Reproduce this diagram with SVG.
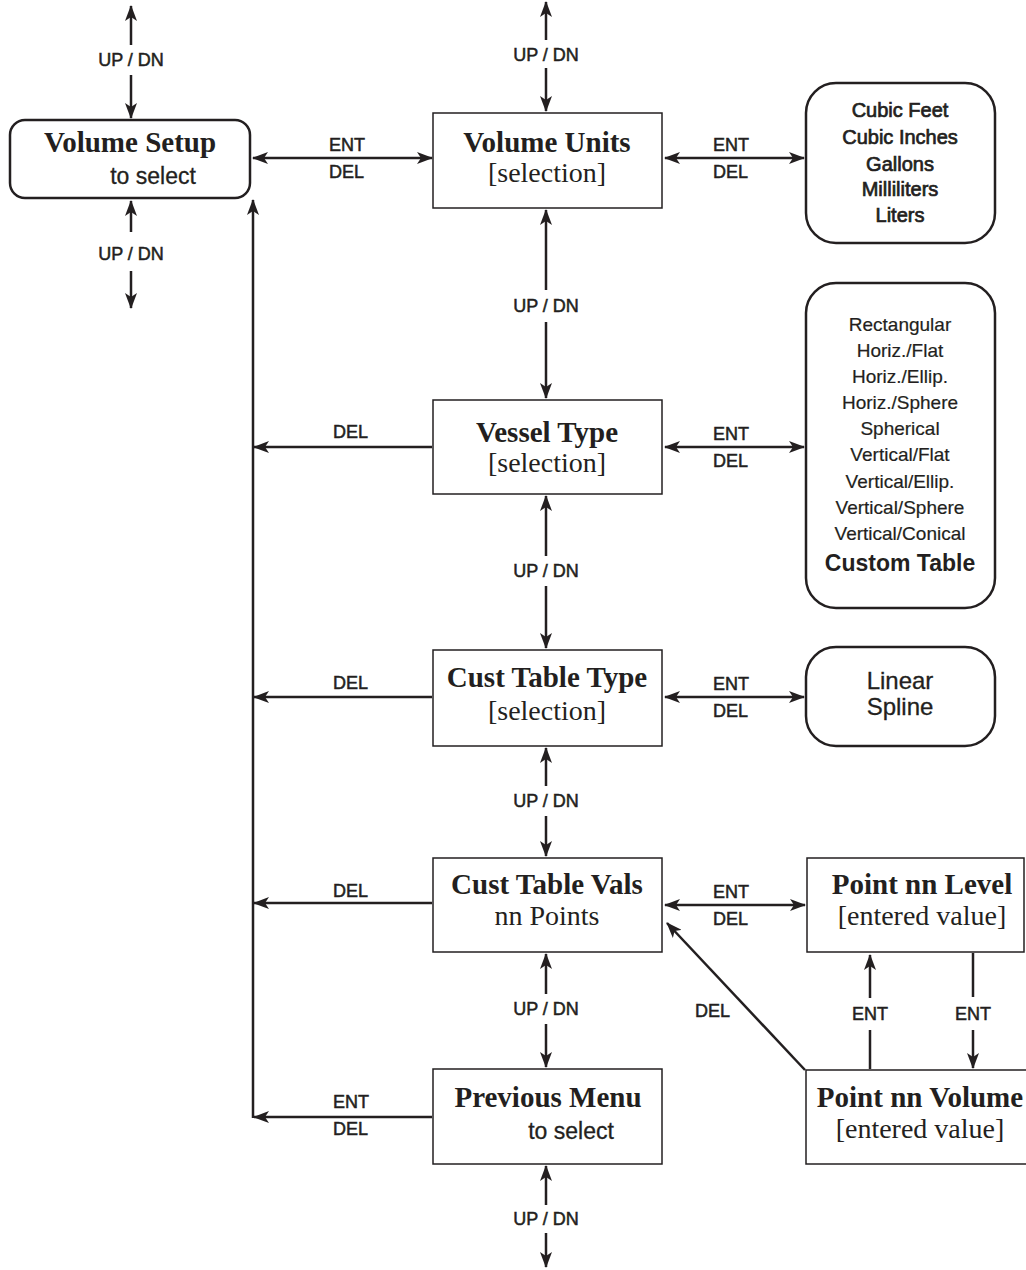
<svg xmlns="http://www.w3.org/2000/svg" width="1026" height="1270" viewBox="0 0 1026 1270">
<style>
.bx{fill:#fff;stroke:#231f20;stroke-width:1.5}
.rb{fill:#fff;stroke:#231f20;stroke-width:2.5}
.ln{fill:none;stroke:#231f20;stroke-width:2.5}
.t{font-family:"Liberation Serif",serif;font-weight:bold;font-size:29px;fill:#231f20;text-anchor:middle}
.s{font-family:"Liberation Serif",serif;font-size:28px;fill:#231f20;text-anchor:middle}
.ss{font-family:"Liberation Sans",Arial,sans-serif;font-size:23px;fill:#231f20;text-anchor:middle;stroke:#231f20;stroke-width:0.3}
.k{font-family:"Liberation Sans",Arial,sans-serif;font-size:18px;fill:#231f20;stroke:#231f20;stroke-width:0.5}
.km{font-family:"Liberation Sans",Arial,sans-serif;font-size:18px;fill:#231f20;text-anchor:middle;stroke:#231f20;stroke-width:0.5}
.l{font-family:"Liberation Sans",Arial,sans-serif;font-size:19px;fill:#231f20;text-anchor:middle;stroke:#231f20;stroke-width:0.2}
.lm{font-family:"Liberation Sans",Arial,sans-serif;font-size:20px;fill:#231f20;text-anchor:middle;stroke:#231f20;stroke-width:0.7}
.lb{font-family:"Liberation Sans",Arial,sans-serif;font-size:23px;fill:#231f20;text-anchor:middle;font-weight:bold}
</style>
<defs>
<marker id="ah" viewBox="0 0 16 12" refX="15" refY="6" markerWidth="16" markerHeight="12" markerUnits="userSpaceOnUse" orient="auto-start-reverse">
<path d="M0,0 L16,6 L0,12 L4,6 Z" fill="#231f20"/>
</marker>
</defs>
<g id="connectors">
<line class="ln" x1="131" y1="45" x2="131" y2="6" marker-end="url(#ah)"/>
<line class="ln" x1="131" y1="75" x2="131" y2="118" marker-end="url(#ah)"/>
<line class="ln" x1="131" y1="232" x2="131" y2="201" marker-end="url(#ah)"/>
<line class="ln" x1="131" y1="271" x2="131" y2="308" marker-end="url(#ah)"/>
<text class="km" x="131" y="66">UP / DN</text>
<text class="km" x="131" y="260">UP / DN</text>
<line class="ln" x1="546" y1="40" x2="546" y2="2" marker-end="url(#ah)"/>
<line class="ln" x1="546" y1="68" x2="546" y2="111" marker-end="url(#ah)"/>
<text class="km" x="546" y="61">UP / DN</text>
<line class="ln" x1="546" y1="290" x2="546" y2="210" marker-end="url(#ah)"/>
<line class="ln" x1="546" y1="322" x2="546" y2="398" marker-end="url(#ah)"/>
<text class="km" x="546" y="312">UP / DN</text>
<line class="ln" x1="546" y1="556" x2="546" y2="496" marker-end="url(#ah)"/>
<line class="ln" x1="546" y1="586" x2="546" y2="648" marker-end="url(#ah)"/>
<text class="km" x="546" y="577">UP / DN</text>
<line class="ln" x1="546" y1="786" x2="546" y2="748" marker-end="url(#ah)"/>
<line class="ln" x1="546" y1="816" x2="546" y2="856" marker-end="url(#ah)"/>
<text class="km" x="546" y="807">UP / DN</text>
<line class="ln" x1="546" y1="994" x2="546" y2="954" marker-end="url(#ah)"/>
<line class="ln" x1="546" y1="1024" x2="546" y2="1067" marker-end="url(#ah)"/>
<text class="km" x="546" y="1015">UP / DN</text>
<line class="ln" x1="546" y1="1205" x2="546" y2="1166" marker-end="url(#ah)"/>
<line class="ln" x1="546" y1="1233" x2="546" y2="1267" marker-end="url(#ah)"/>
<text class="km" x="546" y="1225">UP / DN</text>
<line class="ln" x1="253" y1="158" x2="432" y2="158" marker-start="url(#ah)" marker-end="url(#ah)"/>
<text class="k" x="329" y="151">ENT</text>
<text class="k" x="329" y="178">DEL</text>
<line class="ln" x1="665" y1="158" x2="804" y2="158" marker-start="url(#ah)" marker-end="url(#ah)"/>
<text class="k" x="713" y="151">ENT</text>
<text class="k" x="713" y="178">DEL</text>
<line class="ln" x1="665" y1="447" x2="804" y2="447" marker-start="url(#ah)" marker-end="url(#ah)"/>
<text class="k" x="713" y="440">ENT</text>
<text class="k" x="713" y="467">DEL</text>
<line class="ln" x1="665" y1="697" x2="804" y2="697" marker-start="url(#ah)" marker-end="url(#ah)"/>
<text class="k" x="713" y="690">ENT</text>
<text class="k" x="713" y="717">DEL</text>
<line class="ln" x1="665" y1="905" x2="805" y2="905" marker-start="url(#ah)" marker-end="url(#ah)"/>
<text class="k" x="713" y="898">ENT</text>
<text class="k" x="713" y="925">DEL</text>
<line class="ln" x1="253" y1="1118" x2="253" y2="200" marker-end="url(#ah)"/>
<line class="ln" x1="432" y1="1117" x2="254" y2="1117" marker-end="url(#ah)"/>
<text class="k" x="333" y="1108">ENT</text>
<text class="k" x="333" y="1135">DEL</text>
<line class="ln" x1="432" y1="447" x2="254" y2="447" marker-end="url(#ah)"/>
<text class="k" x="333" y="438">DEL</text>
<line class="ln" x1="432" y1="697" x2="254" y2="697" marker-end="url(#ah)"/>
<text class="k" x="333" y="689">DEL</text>
<line class="ln" x1="432" y1="903" x2="254" y2="903" marker-end="url(#ah)"/>
<text class="k" x="333" y="897">DEL</text>
<line class="ln" x1="805" y1="1070" x2="667" y2="923" marker-end="url(#ah)"/>
<text class="k" x="695" y="1017">DEL</text>
<line class="ln" x1="870" y1="1069" x2="870" y2="1030"/>
<line class="ln" x1="870" y1="998" x2="870" y2="955" marker-end="url(#ah)"/>
<text class="km" x="870" y="1020">ENT</text>
<line class="ln" x1="973" y1="953" x2="973" y2="997"/>
<line class="ln" x1="973" y1="1030" x2="973" y2="1068" marker-end="url(#ah)"/>
<text class="km" x="973" y="1020">ENT</text>
</g>
<g id="volume-setup">
<rect class="rb" x="10" y="120" width="240" height="78" rx="15"/>
<text class="t" x="130" y="152">Volume Setup</text>
<text class="ss" x="153" y="184">to select</text>
</g>
<g id="volume-units">
<rect class="bx" x="433" y="113" width="229" height="95"/>
<text class="t" x="547" y="152">Volume Units</text>
<text class="s" x="547" y="182">[selection]</text>
</g>
<g id="units-list">
<rect class="rb" x="806" y="83" width="189" height="160" rx="30"/>
<text class="lm" x="900" y="117">Cubic Feet</text>
<text class="lm" x="900" y="144">Cubic Inches</text>
<text class="lm" x="900" y="171">Gallons</text>
<text class="lm" x="900" y="196">Milliliters</text>
<text class="lm" x="900" y="222">Liters</text>
</g>
<g id="vessel-type">
<rect class="bx" x="433" y="400" width="229" height="94"/>
<text class="t" x="547" y="442">Vessel Type</text>
<text class="s" x="547" y="472">[selection]</text>
</g>
<g id="vessel-list">
<rect class="rb" x="806" y="283" width="189" height="325" rx="30"/>
<text class="l" x="900" y="331">Rectangular</text>
<text class="l" x="900" y="357">Horiz./Flat</text>
<text class="l" x="900" y="383">Horiz./Ellip.</text>
<text class="l" x="900" y="409">Horiz./Sphere</text>
<text class="l" x="900" y="435">Spherical</text>
<text class="l" x="900" y="461">Vertical/Flat</text>
<text class="l" x="900" y="488">Vertical/Ellip.</text>
<text class="l" x="900" y="514">Vertical/Sphere</text>
<text class="l" x="900" y="540">Vertical/Conical</text>
<text class="lb" x="900" y="571">Custom Table</text>
</g>
<g id="cust-table-type">
<rect class="bx" x="433" y="650" width="229" height="96"/>
<text class="t" x="547" y="687">Cust Table Type</text>
<text class="s" x="547" y="720">[selection]</text>
</g>
<g id="table-type-list">
<rect class="rb" x="806" y="647" width="189" height="99" rx="30"/>
<text class="ss" x="900" y="689" style="font-size:24px">Linear</text>
<text class="ss" x="900" y="715" style="font-size:24px">Spline</text>
</g>
<g id="cust-table-vals">
<rect class="bx" x="433" y="858" width="229" height="94"/>
<text class="t" x="547" y="894">Cust Table Vals</text>
<text class="s" x="547" y="925">nn Points</text>
</g>
<g id="point-level">
<rect class="bx" x="807" y="858" width="217" height="94"/>
<text class="t" x="922" y="894">Point nn Level</text>
<text class="s" x="922" y="925">[entered value]</text>
</g>
<g id="point-volume">
<rect class="bx" x="806" y="1070" width="230" height="94"/>
<text class="t" x="920" y="1107">Point nn Volume</text>
<text class="s" x="920" y="1138">[entered value]</text>
</g>
<g id="previous-menu">
<rect class="bx" x="433" y="1069" width="229" height="95"/>
<text class="t" x="548" y="1107">Previous Menu</text>
<text class="ss" x="571" y="1139">to select</text>
</g>
</svg>
